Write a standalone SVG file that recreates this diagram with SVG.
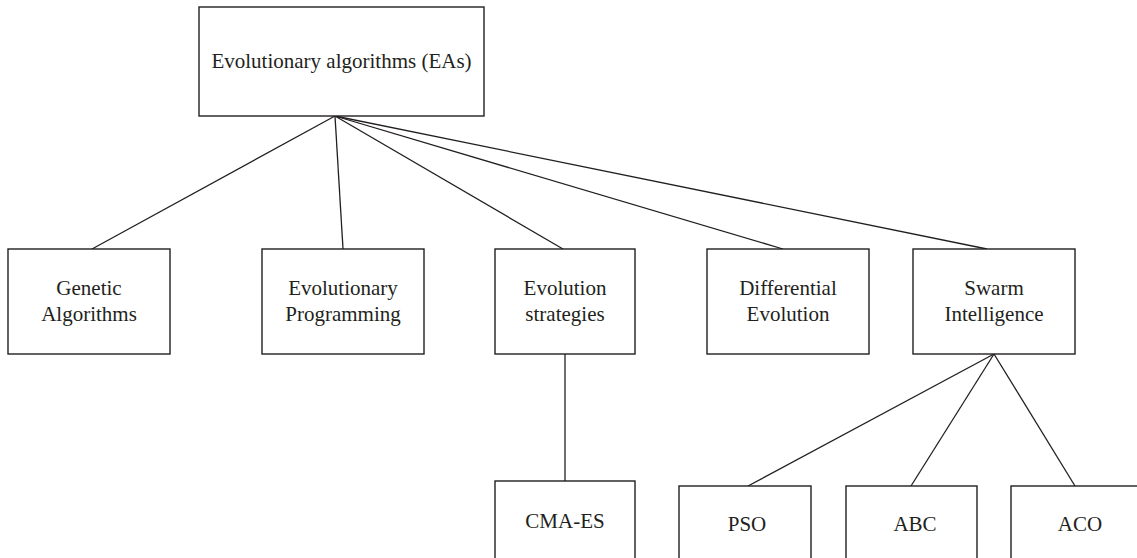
<svg xmlns="http://www.w3.org/2000/svg" width="1137" height="558" viewBox="0 0 1137 558">
<style>
.box{fill:#fff;stroke:#231f20;stroke-width:1.4}
.edge{fill:none;stroke:#231f20;stroke-width:1.3}
text{font-family:"Liberation Serif","Times New Roman",serif;font-size:21px;fill:#231f20;text-anchor:middle}
</style>
<rect width="1137" height="558" fill="#fff"/>
<g id="connectors">
<line class="edge" x1="335" y1="116" x2="92" y2="249"/>
<line class="edge" x1="335" y1="116" x2="343" y2="249"/>
<line class="edge" x1="335" y1="116" x2="563" y2="249"/>
<line class="edge" x1="335" y1="116" x2="783" y2="249"/>
<line class="edge" x1="335" y1="116" x2="987" y2="249"/>
<line class="edge" x1="565" y1="354" x2="565" y2="481"/>
<line class="edge" x1="994" y1="354" x2="748" y2="486"/>
<line class="edge" x1="994" y1="354" x2="911" y2="486"/>
<line class="edge" x1="994" y1="354" x2="1075" y2="486"/>
</g>
<g id="ea">
<rect class="box" x="199" y="7" width="285" height="109"/>
<text x="341.5" y="68">Evolutionary algorithms (EAs)</text>
</g>
<g id="ga">
<rect class="box" x="8" y="249" width="162" height="105"/>
<text x="89" y="295">Genetic</text>
<text x="89" y="321">Algorithms</text>
</g>
<g id="ep">
<rect class="box" x="262" y="249" width="162" height="105"/>
<text x="343" y="295">Evolutionary</text>
<text x="343" y="321">Programming</text>
</g>
<g id="es">
<rect class="box" x="495" y="249" width="140" height="105"/>
<text x="565" y="295">Evolution</text>
<text x="565" y="321">strategies</text>
</g>
<g id="de">
<rect class="box" x="707" y="249" width="162" height="105"/>
<text x="788" y="295">Differential</text>
<text x="788" y="321">Evolution</text>
</g>
<g id="si">
<rect class="box" x="913" y="249" width="162" height="105"/>
<text x="994" y="295">Swarm</text>
<text x="994" y="321">Intelligence</text>
</g>
<g id="cmaes">
<rect class="box" x="495" y="481" width="140" height="100"/>
<text x="565" y="528">CMA-ES</text>
</g>
<g id="pso">
<rect class="box" x="679" y="486" width="132" height="100"/>
<text x="747" y="531">PSO</text>
</g>
<g id="abc">
<rect class="box" x="846" y="486" width="131" height="100"/>
<text x="915" y="531">ABC</text>
</g>
<g id="aco">
<rect class="box" x="1011" y="486" width="131" height="100"/>
<text x="1080" y="531">ACO</text>
</g>
</svg>
